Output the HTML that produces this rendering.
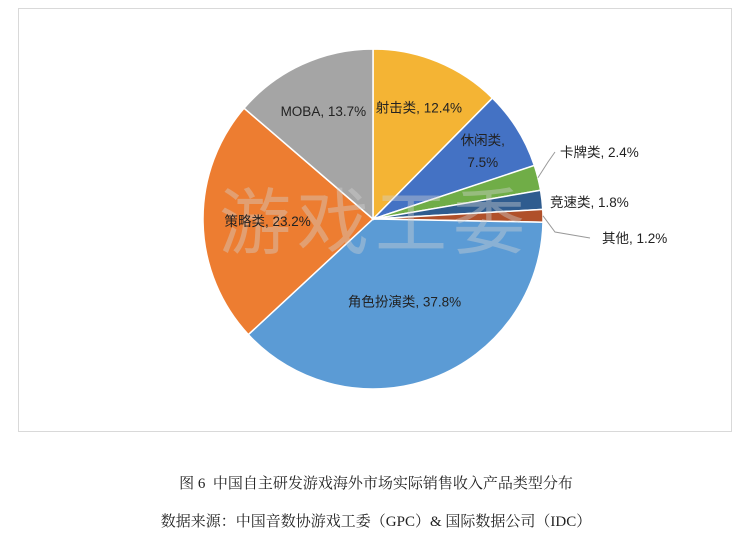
<!DOCTYPE html>
<html><head><meta charset="utf-8"><style>
body{margin:0;background:#fff;width:752px;height:540px;overflow:hidden;font-family:"Liberation Sans","Noto Sans CJK SC",sans-serif}
#frame{position:absolute;left:18px;top:8px;width:714px;height:424px;border:1px solid #d9d9d9;box-sizing:border-box}
.cap{position:absolute;left:0;width:752px;text-align:center;font-family:"Liberation Serif","Noto Serif CJK SC",serif;font-size:15px;color:#222}
</style></head><body>
<div id="frame"></div>
<svg id="chart" width="752" height="540" style="position:absolute;left:0;top:0"></svg>
<div class="cap" style="top:472px">图 6&nbsp; 中国自主研发游戏海外市场实际销售收入产品类型分布</div>
<div class="cap" style="top:510px">数据来源：中国音数协游戏工委（GPC）&amp; 国际数据公司（IDC）</div>
<script>
const categories=["射击类","休闲类","卡牌类","竞速类","其他","角色扮演类","策略类","MOBA"];
const values=[12.4,7.5,2.4,1.8,1.2,37.8,23.2,13.7];
const labelText=["射击类, 12.4%","休闲类,|7.5%","卡牌类, 2.4%","竞速类, 1.8%","其他, 1.2%","角色扮演类, 37.8%","策略类, 23.2%","MOBA, 13.7%"];
const colors=["#F4B434","#4472C4","#70AD47","#2F5C8F","#B0502A","#5B9BD5","#ED7D31","#A5A5A5"];
const svg=document.getElementById('chart');const NS="http://www.w3.org/2000/svg";
const cx=373,cy=219,r=170;
const labelR=[0.71,0.76,0,0,0,0.52,0.62,0.70];
const total=values.reduce((a,b)=>a+b,0);
function pt(a,rr){return [cx+rr*Math.sin(a),cy-rr*Math.cos(a)];}
let acc=0;
values.forEach((v,i)=>{
 const a0=acc/total*2*Math.PI;acc+=v;const a1=acc/total*2*Math.PI;
 const p0=pt(a0,r),p1=pt(a1,r);
 const p=document.createElementNS(NS,'path');
 p.setAttribute('d',`M${cx},${cy}L${p0[0]},${p0[1]}A${r},${r} 0 ${a1-a0>Math.PI?1:0} 1 ${p1[0]},${p1[1]}Z`);
 p.setAttribute('fill',colors[i]);p.setAttribute('stroke','#fff');p.setAttribute('stroke-width','1.5');
 
 
 svg.appendChild(p);
});
const wm=document.createElementNS(NS,'text');
wm.setAttribute('x',375);wm.setAttribute('y',248);wm.setAttribute('text-anchor','middle');
wm.setAttribute('font-size','72');wm.setAttribute('fill','rgba(210,210,210,0.4)');
wm.setAttribute('font-family','"Noto Sans CJK SC",sans-serif');wm.setAttribute('letter-spacing','6');
wm.textContent='游戏工委';


svg.appendChild(wm);
acc=0;
values.forEach((v,i)=>{
 const am=(acc+v/2)/total*2*Math.PI;acc+=v;
 let x,y,anchor='middle';
 if(i>=2&&i<=4){
  const e=pt(am,r);const o=[[555,152],[545,202],[590,238]][i-2];
  const ln=document.createElementNS(NS,'polyline');
  const mid=i==2?[548,162]:(i==3?[545,202]:[555,232]);
  ln.setAttribute('points',`${e[0]},${e[1]} ${mid[0]},${mid[1]} ${o[0]},${o[1]}`);
  ln.setAttribute('fill','none');ln.setAttribute('stroke','#999');
  
  
  if(i!=3)svg.appendChild(ln);
  x=o[0]+5;y=o[1]+5;anchor='start';
  if(i==4){x=602;}
 } else {
  const p=pt(am,r*labelR[i]);x=p[0];y=p[1]+5;
 }
 const parts=labelText[i].split('|');
 parts.forEach((s,k)=>{
  const t=document.createElementNS(NS,'text');
  t.setAttribute('x',x);t.setAttribute('y',y+(k-(parts.length-1)/2)*22);
  t.setAttribute('text-anchor',anchor);t.setAttribute('font-size','13.5');t.setAttribute('fill','#222');
  t.textContent=s;
  
  
  svg.appendChild(t);
 });
});
</script>
</body></html>
